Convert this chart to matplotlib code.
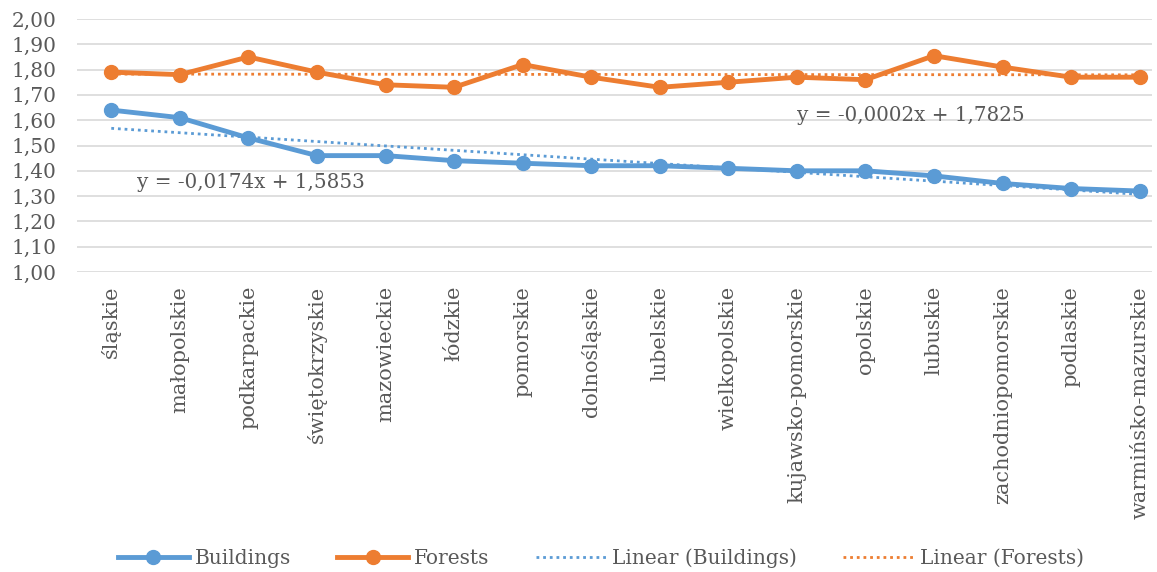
import numpy as np
import matplotlib.pyplot as plt

plt.rcParams['font.family'] = ['DejaVu Serif']

regions = ['śląskie', 'małopolskie', 'podkarpackie', 'świętokrzyskie',
           'mazowieckie', 'łódzkie', 'pomorskie', 'dolnośląskie', 'lubelskie',
           'wielkopolskie', 'kujawsko-pomorskie', 'opolskie', 'lubuskie',
           'zachodniopomorskie', 'podlaskie', 'warmińsko-mazurskie']
buildings = [1.64, 1.61, 1.53, 1.46, 1.46, 1.44, 1.43, 1.42,
             1.42, 1.41, 1.40, 1.40, 1.38, 1.35, 1.33, 1.32]
forests = [1.79, 1.78, 1.85, 1.79, 1.74, 1.73, 1.82, 1.77,
           1.73, 1.75, 1.77, 1.76, 1.855, 1.81, 1.77, 1.77]

# linear trend coefficients (x = 1..16)
trend_buildings = (-0.0174, 1.5853)
trend_forests = (-0.0002, 1.7825)

blue = '#5B9BD5'
orange = '#ED7D31'
grey = '#595959'

fig = plt.figure(figsize=(11.57, 5.72), dpi=100)
ax = fig.add_axes([77 / 1157, 1 - 272 / 572, (1152 - 77) / 1157, 253 / 572])

x = np.arange(len(regions))
ax.plot(x, buildings, color=blue, lw=3.5, marker='o', ms=10, label='Buildings', zorder=3)
ax.plot(x, forests, color=orange, lw=3.5, marker='o', ms=10, label='Forests', zorder=3)

xt = x + 1
ax.plot(x, trend_buildings[0] * xt + trend_buildings[1], color=blue, lw=2,
        ls=(0, (1, 1.4)), label='Linear (Buildings)', zorder=4)
ax.plot(x, trend_forests[0] * xt + trend_forests[1], color=orange, lw=2,
        ls=(0, (1, 1.4)), label='Linear (Forests)', zorder=2)


def eq(c):
    return 'y = {:.4f}x + {:.4f}'.format(*c).replace('.', ',')


ax.text(0.38, 1.355, eq(trend_buildings), fontsize=14.3, color=grey, va='center')
ax.text(10.0, 1.620, eq(trend_forests), fontsize=14.3, color=grey, va='center')

ax.set_xlim(-0.5, 15.18)
ax.set_ylim(1.0, 2.0)
ax.set_yticks(np.arange(1.0, 2.001, 0.1))
ax.set_yticklabels(['{:.2f}'.format(v).replace('.', ',') for v in np.arange(1.0, 2.001, 0.1)])
ax.set_xticks(x)
ax.set_xticklabels(regions, rotation=90, va='top', ha='center')
ax.tick_params(axis='both', length=0, labelsize=14.5, colors=grey)
ax.tick_params(axis='x', labelsize=15, pad=10)
ax.tick_params(axis='y', pad=15)
ax.grid(axis='y', color='#D9D9D9', lw=1.2)
ax.set_axisbelow(True)
for s in ax.spines.values():
    s.set_visible(False)

leg = fig.legend(loc='center', bbox_to_anchor=(601 / 1157, 1 - 558 / 572), ncol=4,
                 frameon=False, fontsize=14.5, handlelength=3.5, columnspacing=2.3,
                 handletextpad=0.3)
for t in leg.get_texts():
    t.set_color(grey)

fig.savefig('out.png', dpi=100)
